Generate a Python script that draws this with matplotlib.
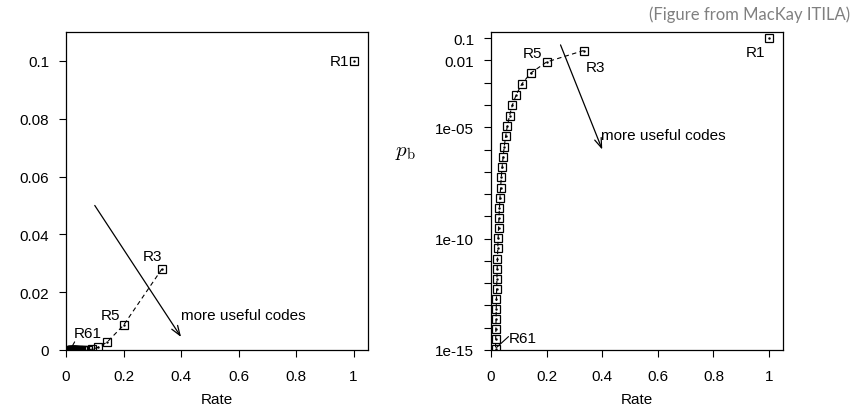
import matplotlib
matplotlib.use("Agg")
import matplotlib.pyplot as plt

plt.rcParams["font.family"] = ["Liberation Sans", "DejaVu Sans"]
plt.rcParams["mathtext.fontset"] = "cm"

# repetition codes R1, R3, ..., R61 (rate, bit error probability)
codes = ["R1", "R3", "R5", "R7", "R9", "R11", "R13", "R15", "R17", "R19", "R21",
         "R23", "R25", "R27", "R29", "R31", "R33", "R35", "R37", "R39", "R41",
         "R43", "R45", "R47", "R49", "R51", "R53", "R55", "R57", "R59", "R61"]
rate = [1.0, 0.3333, 0.2, 0.1429, 0.1111, 0.0909, 0.0769, 0.0667, 0.0588, 0.0526,
        0.0476, 0.0435, 0.04, 0.0370, 0.0345, 0.0323, 0.0303, 0.0286, 0.0270, 0.0256,
        0.0244, 0.0233, 0.0222, 0.0213, 0.0204, 0.0196, 0.0189, 0.0182, 0.0175,
        0.0169, 0.0164]
pb = [0.1, 0.028, 0.00856, 0.002728, 8.909e-4, 2.957e-4, 9.93e-5, 3.362e-5,
      1.146e-5, 3.93e-6, 1.353e-6, 4.683e-7, 1.623e-7, 5.642e-8, 1.965e-8,
      6.86e-9, 2.399e-9, 8.40e-10, 2.947e-10, 1.035e-10, 3.64e-11, 1.281e-11,
      4.514e-12, 1.592e-12, 5.618e-13, 1.984e-13, 7.01e-14, 2.48e-14, 8.78e-15,
      3.11e-15, 1.10e-15]

xticks = [0, 0.2, 0.4, 0.6, 0.8, 1]
xticklabels = ["0", "0.2", "0.4", "0.6", "0.8", "1"]
lin_yticks = [0, 0.02, 0.04, 0.06, 0.08, 0.1]
lin_yticklabels = ["0", "0.02", "0.04", "0.06", "0.08", "0.1"]
log_yticks = [10.0 ** -k for k in range(1, 16)]
log_labelled = {1: "0.1", 2: "0.01", 5: "1e-05", 10: "1e-10", 15: "1e-15"}

fig = plt.figure(figsize=(8.55, 4.06), dpi=100)
ax1 = fig.add_axes([66 / 855, 1 - 351 / 406, 302 / 855, 318 / 406])
ax2 = fig.add_axes([491 / 855, 1 - 351 / 406, 292 / 855, 318 / 406])


def draw(ax):
    ax.plot(rate[1:], pb[1:], ls=(0, (4, 3)), color="black", lw=0.8, zorder=2)
    ax.plot(rate, pb, ls="none", marker="s", ms=5.5, mfc="none", mec="black",
            mew=0.9, zorder=3)
    ax.plot(rate, pb, ls="none", marker=".", ms=1.5, color="black", zorder=3)
    ax.set_xlim(0, 1.05)
    ax.set_xticks(xticks)
    ax.set_xticklabels(xticklabels)
    ax.set_xlabel("Rate", fontsize=11, labelpad=6)
    ax.tick_params(direction="out", length=5, width=0.8, labelsize=11, pad=7,
                   top=False, right=False)
    ax.tick_params(axis="x", pad=9)
    for s in ax.spines.values():
        s.set_linewidth(0.9)


arrow = dict(arrowstyle="->,head_length=0.7,head_width=0.25", color="black", lw=0.9,
             shrinkA=0, shrinkB=0)
line = dict(arrowstyle="-", color="black", lw=0.8, shrinkA=0, shrinkB=0)

# left: linear scale
draw(ax1)
ax1.set_ylim(0, 0.11)
ax1.set_yticks(lin_yticks)
ax1.set_yticklabels(lin_yticklabels)
ax1.text(0.985, 0.1, "R1", ha="right", va="center", fontsize=11)
ax1.text(0.3, 0.0325, "R3", ha="center", va="center", fontsize=11)
ax1.text(0.156, 0.012, "R5", ha="center", va="center", fontsize=11)
ax1.text(0.076, 0.0058, "R61", ha="center", va="center", fontsize=11)
ax1.annotate("", xy=(0.016, 0.0003), xytext=(0.03, 0.0028), arrowprops=line)
ax1.annotate("", xy=(0.4, 0.0045), xytext=(0.1, 0.05), arrowprops=arrow)
ax1.text(0.4, 0.012, "more useful codes", ha="left", va="center", fontsize=11)

# right: log scale
draw(ax2)
ax2.set_yscale("log")
ax2.set_ylim(1e-15, 0.19)
ax2.set_yticks(log_yticks)
ax2.set_yticklabels([log_labelled.get(k, "") for k in range(1, 16)])
ax2.minorticks_off()
ax2.text(0.985, 0.025, "R1", ha="right", va="center", fontsize=11)
ax2.text(0.34, 0.005, "R3", ha="left", va="center", fontsize=11)
ax2.text(0.186, 0.021, "R5", ha="right", va="center", fontsize=11)
ax2.text(0.064, 3.4e-15, "R61", ha="left", va="center", fontsize=11)
ax2.annotate("", xy=(0.02, 1.3e-15), xytext=(0.063, 4e-15), arrowprops=line)
ax2.annotate("", xy=(0.4, 1e-6), xytext=(0.25, 0.05), arrowprops=arrow)
ax2.text(0.397, 4.5e-6, "more useful codes", ha="left", va="center", fontsize=11)

fig.text(405 / 855, 1 - 153 / 406, r"$p_{\rm b}$", ha="center", va="center",
         fontsize=15)
fig.text(850 / 855, 1 - 15 / 406, "(Figure from MacKay ITILA)", ha="right",
         va="center", fontsize=12, color="#808080", family=["Lato", "DejaVu Sans"])

fig.savefig("out.png", dpi=100)
